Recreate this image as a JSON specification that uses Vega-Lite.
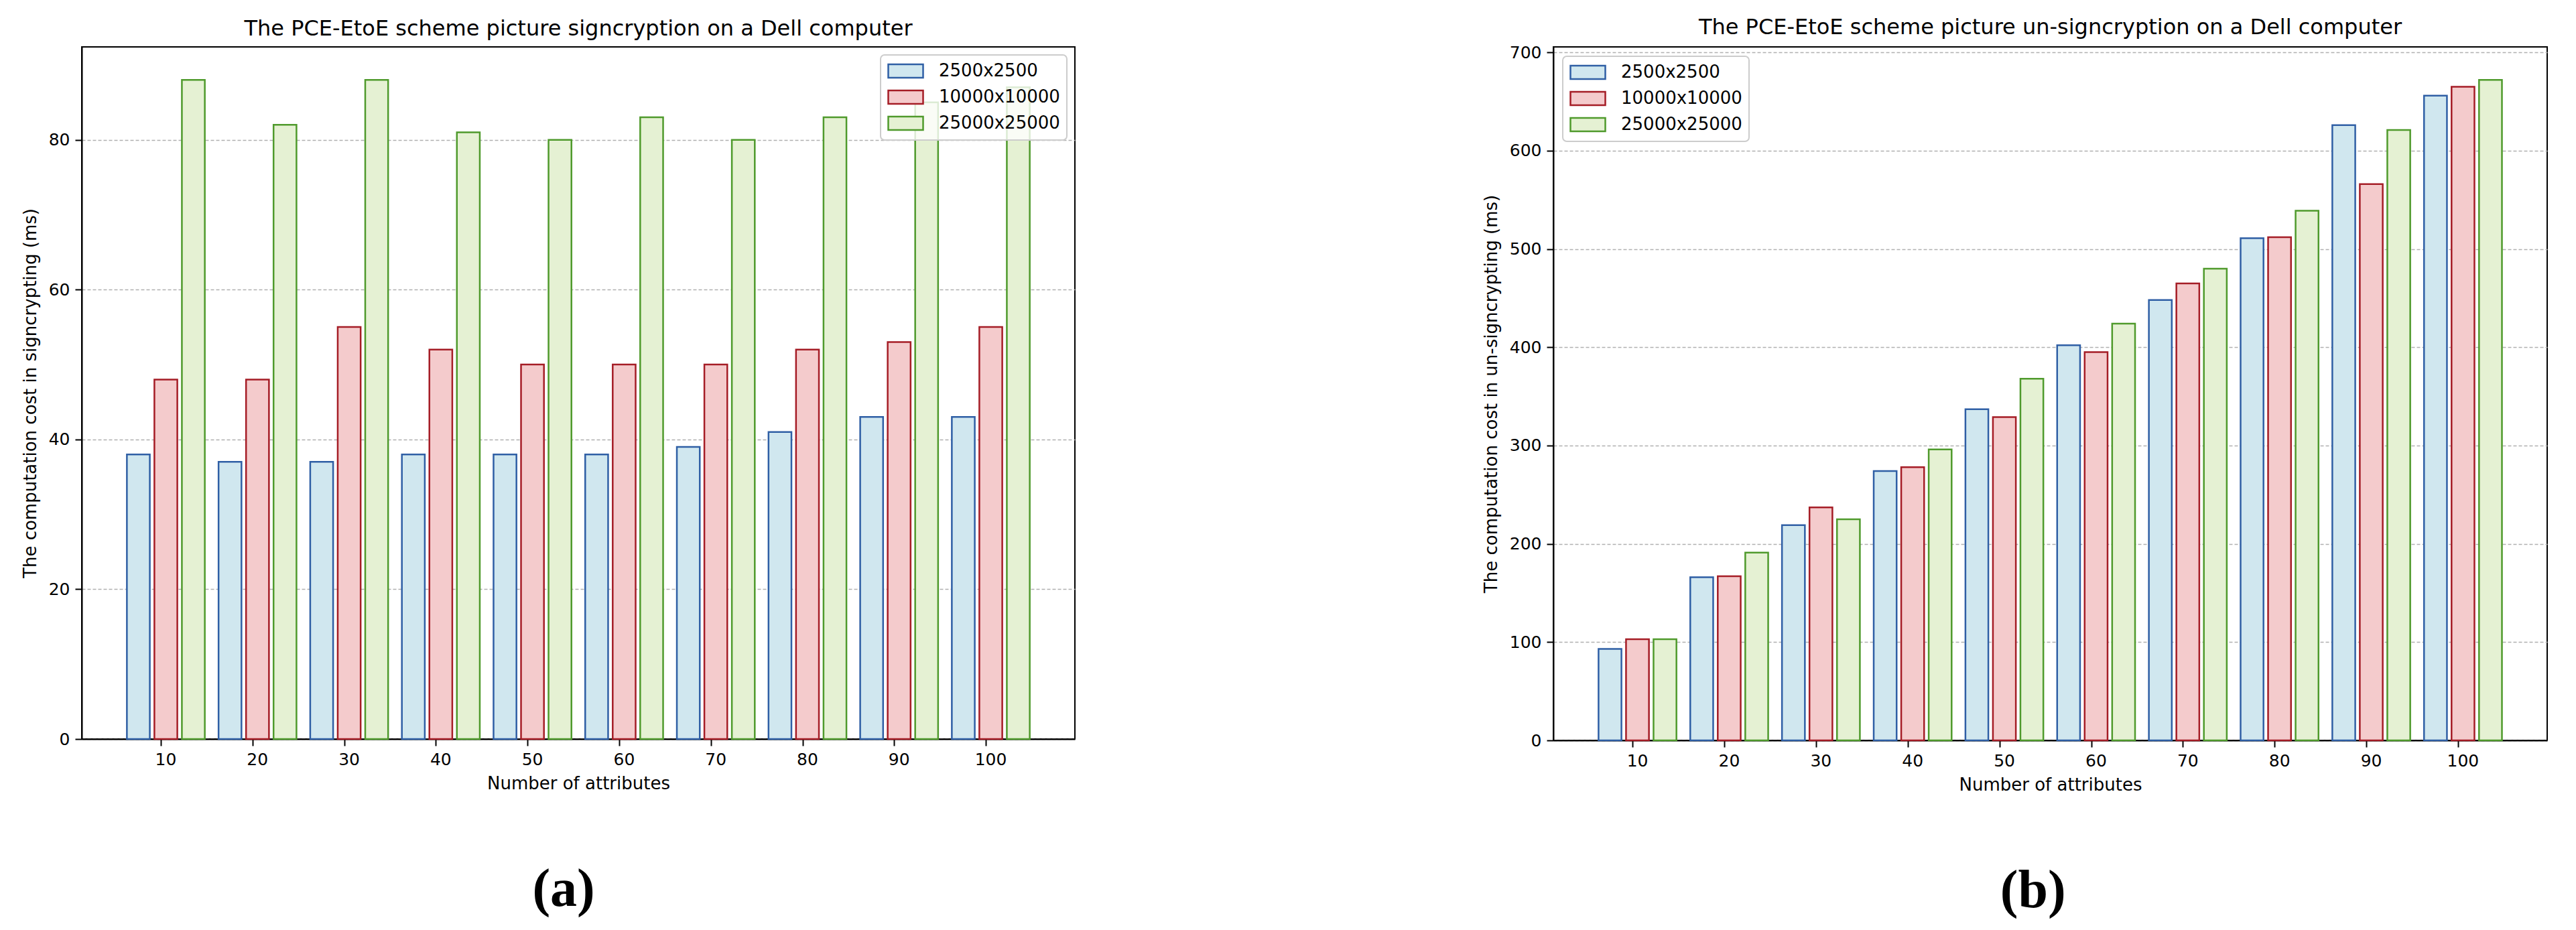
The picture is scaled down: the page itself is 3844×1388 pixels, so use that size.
{
  "$schema": "https://vega.github.io/schema/vega-lite/v6.json",
  "background": "white",
  "autosize": {"type": "pad"},
  "padding": {"left": 31, "top": 24, "right": 10, "bottom": 10},
  "datasets": {
    "sign": [
      {"attr": 10, "size": "2500x2500", "v": 38}, {"attr": 10, "size": "10000x10000", "v": 48}, {"attr": 10, "size": "25000x25000", "v": 88},
      {"attr": 20, "size": "2500x2500", "v": 37}, {"attr": 20, "size": "10000x10000", "v": 48}, {"attr": 20, "size": "25000x25000", "v": 82},
      {"attr": 30, "size": "2500x2500", "v": 37}, {"attr": 30, "size": "10000x10000", "v": 55}, {"attr": 30, "size": "25000x25000", "v": 88},
      {"attr": 40, "size": "2500x2500", "v": 38}, {"attr": 40, "size": "10000x10000", "v": 52}, {"attr": 40, "size": "25000x25000", "v": 81},
      {"attr": 50, "size": "2500x2500", "v": 38}, {"attr": 50, "size": "10000x10000", "v": 50}, {"attr": 50, "size": "25000x25000", "v": 80},
      {"attr": 60, "size": "2500x2500", "v": 38}, {"attr": 60, "size": "10000x10000", "v": 50}, {"attr": 60, "size": "25000x25000", "v": 83},
      {"attr": 70, "size": "2500x2500", "v": 39}, {"attr": 70, "size": "10000x10000", "v": 50}, {"attr": 70, "size": "25000x25000", "v": 80},
      {"attr": 80, "size": "2500x2500", "v": 41}, {"attr": 80, "size": "10000x10000", "v": 52}, {"attr": 80, "size": "25000x25000", "v": 83},
      {"attr": 90, "size": "2500x2500", "v": 43}, {"attr": 90, "size": "10000x10000", "v": 53}, {"attr": 90, "size": "25000x25000", "v": 85},
      {"attr": 100, "size": "2500x2500", "v": 43}, {"attr": 100, "size": "10000x10000", "v": 55}, {"attr": 100, "size": "25000x25000", "v": 87}
    ],
    "unsign": [
      {"attr": 10, "size": "2500x2500", "v": 93}, {"attr": 10, "size": "10000x10000", "v": 103}, {"attr": 10, "size": "25000x25000", "v": 103},
      {"attr": 20, "size": "2500x2500", "v": 166}, {"attr": 20, "size": "10000x10000", "v": 167}, {"attr": 20, "size": "25000x25000", "v": 191},
      {"attr": 30, "size": "2500x2500", "v": 219}, {"attr": 30, "size": "10000x10000", "v": 237}, {"attr": 30, "size": "25000x25000", "v": 225},
      {"attr": 40, "size": "2500x2500", "v": 274}, {"attr": 40, "size": "10000x10000", "v": 278}, {"attr": 40, "size": "25000x25000", "v": 296},
      {"attr": 50, "size": "2500x2500", "v": 337}, {"attr": 50, "size": "10000x10000", "v": 329}, {"attr": 50, "size": "25000x25000", "v": 368},
      {"attr": 60, "size": "2500x2500", "v": 402}, {"attr": 60, "size": "10000x10000", "v": 395}, {"attr": 60, "size": "25000x25000", "v": 424},
      {"attr": 70, "size": "2500x2500", "v": 448}, {"attr": 70, "size": "10000x10000", "v": 465}, {"attr": 70, "size": "25000x25000", "v": 480},
      {"attr": 80, "size": "2500x2500", "v": 511}, {"attr": 80, "size": "10000x10000", "v": 512}, {"attr": 80, "size": "25000x25000", "v": 539},
      {"attr": 90, "size": "2500x2500", "v": 626}, {"attr": 90, "size": "10000x10000", "v": 566}, {"attr": 90, "size": "25000x25000", "v": 621},
      {"attr": 100, "size": "2500x2500", "v": 656}, {"attr": 100, "size": "10000x10000", "v": 665}, {"attr": 100, "size": "25000x25000", "v": 672}
    ]
  },
  "spacing": 606,
  "hconcat": [
    {
      "title": {"text": "(a)", "orient": "bottom", "font": "Liberation Serif", "fontSize": 80, "fontWeight": "bold", "anchor": "middle", "frame": "bounds", "dx": 23, "offset": 106},
      "resolve": {"scale": {"fill": "independent", "stroke": "independent"}, "legend": {"fill": "independent", "stroke": "independent"}},
      "vconcat": [
        {
          "data": {"name": "sign"},
          "width": 1482,
          "height": 1033,
          "title": {"text": "The PCE-EtoE scheme picture signcryption on a Dell computer", "frame": "group", "offset": 10},
          "mark": {"type": "bar", "strokeWidth": 2.5},
          "encoding": {
            "x": {"field": "attr", "type": "ordinal", "scale": {"paddingInner": 0, "paddingOuter": 0.4175}, "axis": {"title": "Number of attributes", "labelAngle": 0, "bandPosition": 0.45, "grid": false}},
            "xOffset": {"field": "size", "type": "nominal", "scale": {"domain": ["2500x2500", "10000x10000", "25000x25000"], "paddingInner": 0.1667, "paddingOuter": 0.25}},
            "y": {"field": "v", "type": "quantitative", "scale": {"domain": [0, 92.4], "nice": false}, "axis": {"title": "The computation cost in signcrypting (ms)", "values": [0, 20, 40, 60, 80], "grid": true}},
            "fill": {"field": "size", "type": "nominal", "scale": {"domain": ["2500x2500", "10000x10000", "25000x25000"], "range": ["#d0e7ef", "#f4cbcc", "#e5f1d3"]}, "legend": {"orient": "top-right", "offset": 12}},
            "stroke": {"field": "size", "type": "nominal", "scale": {"domain": ["2500x2500", "10000x10000", "25000x25000"], "range": ["#2f5fa5", "#a51d26", "#4f9a2c"]}, "legend": {"orient": "top-right", "offset": 12}}
          }
        }
      ]
    },
    {
      "title": {"text": "(b)", "orient": "bottom", "font": "Liberation Serif", "fontSize": 80, "fontWeight": "bold", "anchor": "middle", "frame": "bounds", "dx": 27, "offset": 106},
      "resolve": {"scale": {"fill": "independent", "stroke": "independent"}, "legend": {"fill": "independent", "stroke": "independent"}},
      "vconcat": [
        {
          "data": {"name": "unsign"},
          "width": 1483,
          "height": 1035,
          "title": {"text": "The PCE-EtoE scheme picture un-signcryption on a Dell computer", "frame": "group", "offset": 8},
          "mark": {"type": "bar", "strokeWidth": 2.5},
          "encoding": {
            "x": {"field": "attr", "type": "ordinal", "scale": {"paddingInner": 0, "paddingOuter": 0.4175}, "axis": {"title": "Number of attributes", "labelAngle": 0, "bandPosition": 0.45, "grid": false}},
            "xOffset": {"field": "size", "type": "nominal", "scale": {"domain": ["2500x2500", "10000x10000", "25000x25000"], "paddingInner": 0.1667, "paddingOuter": 0.25}},
            "y": {"field": "v", "type": "quantitative", "scale": {"domain": [0, 705.6], "nice": false}, "axis": {"title": "The computation cost in un-signcrypting (ms)", "values": [0, 100, 200, 300, 400, 500, 600, 700], "grid": true}},
            "fill": {"field": "size", "type": "nominal", "scale": {"domain": ["2500x2500", "10000x10000", "25000x25000"], "range": ["#d0e7ef", "#f4cbcc", "#e5f1d3"]}, "legend": {"orient": "top-left", "offset": 14}},
            "stroke": {"field": "size", "type": "nominal", "scale": {"domain": ["2500x2500", "10000x10000", "25000x25000"], "range": ["#2f5fa5", "#a51d26", "#4f9a2c"]}, "legend": {"orient": "top-left", "offset": 14}}
          }
        }
      ]
    }
  ],
  "resolve": {"scale": {"fill": "independent", "stroke": "independent"}, "legend": {"fill": "independent", "stroke": "independent"}},
  "config": {
    "view": {"stroke": "black", "strokeWidth": 2},
    "title": {"font": "DejaVu Sans", "fontSize": 32, "fontWeight": "normal", "color": "black"},
    "axis": {
      "labelFont": "DejaVu Sans", "labelFontSize": 25, "labelColor": "black",
      "titleFont": "DejaVu Sans", "titleFontSize": 26, "titleFontWeight": "normal", "titleColor": "black",
      "domainColor": "black", "domainWidth": 2, "tickColor": "black", "tickWidth": 2, "tickSize": 10, "labelPadding": 8,
      "gridColor": "#b0b0b0", "gridDash": [5, 3], "gridWidth": 1.5
    },
    "axisX": {"titlePadding": 10},
    "axisY": {"titlePadding": 14},
    "legend": {
      "title": null,
      "symbolType": "M-1,-0.8H3.16V0.8H-1Z",
      "symbolSize": 625,
      "symbolStrokeWidth": 2.5,
      "symbolOpacity": 1,
      "labelFont": "DejaVu Sans",
      "labelFontSize": 26,
      "labelColor": "black",
      "labelLimit": 400,
      "labelOffset": 49,
      "rowPadding": 9,
      "padding": 10,
      "strokeColor": "#cccccc",
      "strokeWidth": 2,
      "fillColor": "rgba(255,255,255,0.8)",
      "cornerRadius": 6
    }
  }
}
